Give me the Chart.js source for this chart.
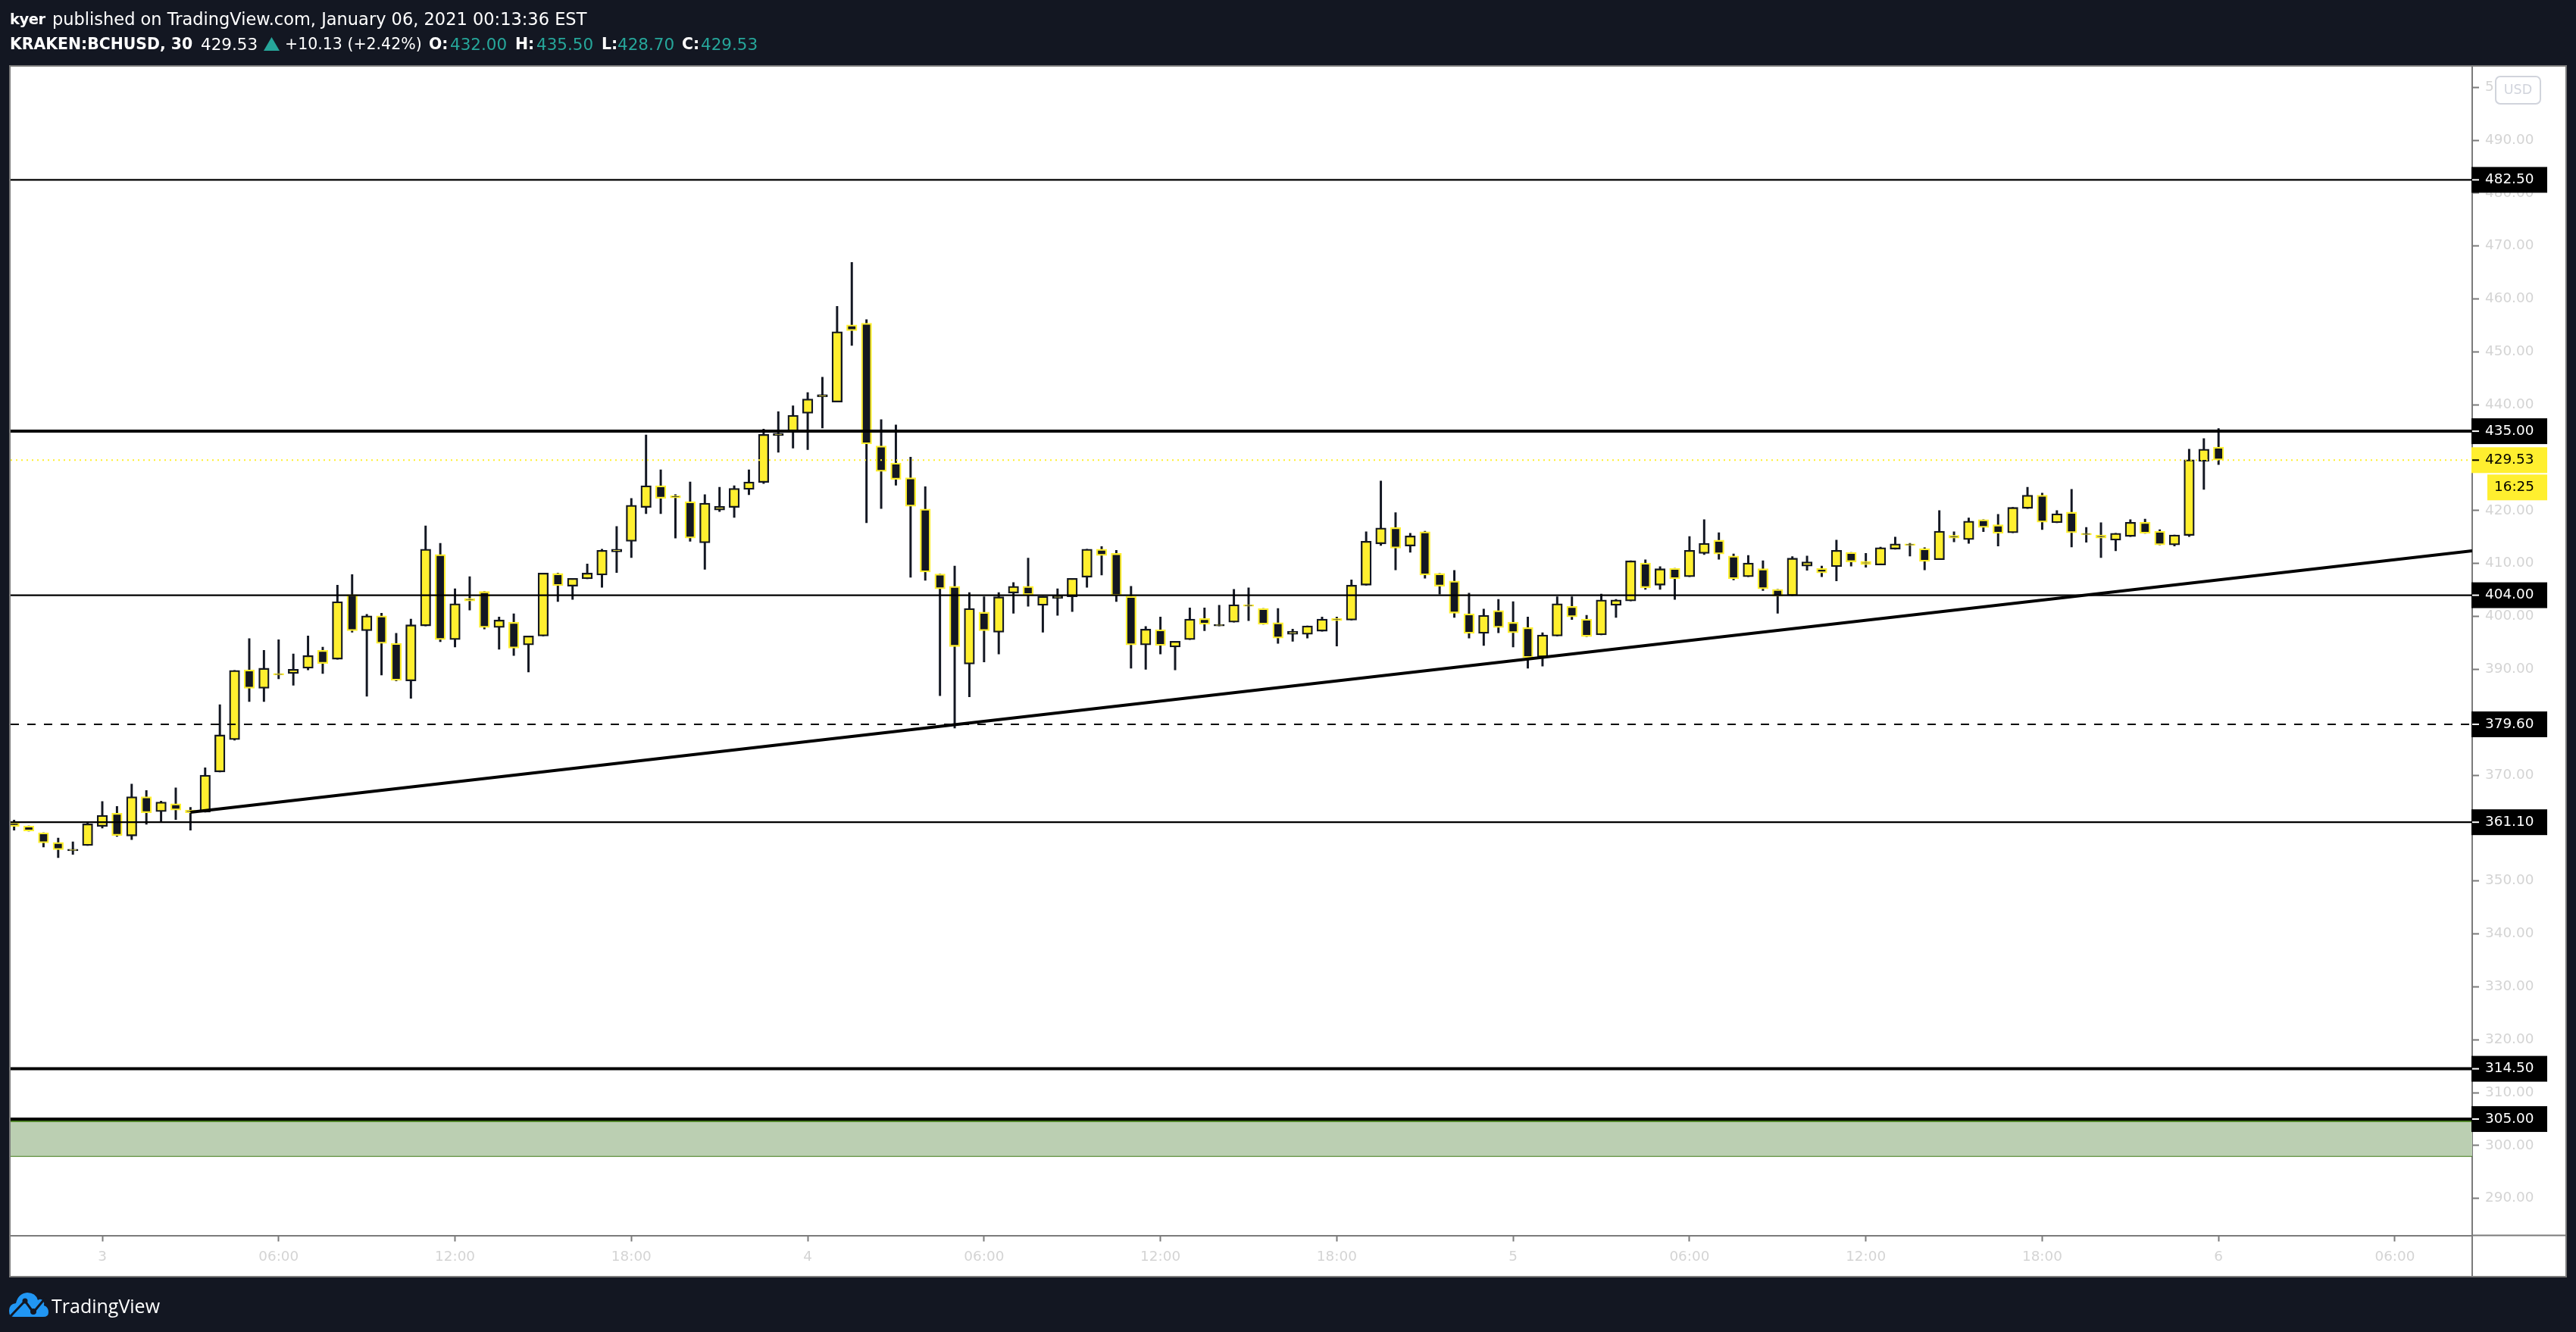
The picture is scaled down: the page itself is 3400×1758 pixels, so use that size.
<!DOCTYPE html>
<html>
<head>
<meta charset="utf-8">
<title>BCHUSD</title>
<script src="https://cdn.jsdelivr.net/npm/chart.js@4"></script>
<style>
html, body { margin: 0; padding: 0; width: 3400px; height: 1758px; overflow: hidden; background: #131722; }
canvas { position: absolute; left: 0; top: 0; }
.t { position: absolute; white-space: nowrap; font-family: "DejaVu Sans"; font-size: 21.5px; line-height: 25px; color: #ffffff; }
.b { font-weight: bold; font-size: 20.4px; }
.g { color: #26a69a; }
</style>
</head>
<body>
<canvas id="myChart" width="3400" height="1758"></canvas>

<div class="t b" style="left:13px;top:13px;font-size:19.5px;letter-spacing:-0.5px">kyer</div>
<div class="t" style="left:69px;top:13px;font-size:22.5px">published on TradingView.com, January 06, 2021 00:13:36 EST</div>
<div class="t b" style="left:13px;top:46px">KRAKEN:BCHUSD, 30</div>
<div class="t" style="left:265px;top:46px">429.53</div>
<svg style="position:absolute;left:348px;top:49px" width="21" height="18"><polygon points="10.5,0 21,18 0,18" fill="#26a69a"/></svg>
<div class="t" style="left:376px;top:46px;font-size:20.5px">+10.13 (+2.42%)</div>
<div class="t b" style="left:566px;top:46px">O:</div>
<div class="t g" style="left:594px;top:46px">432.00</div>
<div class="t b" style="left:680px;top:46px">H:</div>
<div class="t g" style="left:708px;top:46px">435.50</div>
<div class="t b" style="left:794px;top:46px">L:</div>
<div class="t g" style="left:815px;top:46px">428.70</div>
<div class="t b" style="left:900px;top:46px">C:</div>
<div class="t g" style="left:925px;top:46px">429.53</div>

<svg style="position:absolute;left:12px;top:1706px" width="54" height="32" viewBox="0 0 54 32">
  <path d="M6 32 Q0 32 0 24 Q0 15 9 14 Q12 1 24 0 Q35 0 38 10 Q42 7 45 11 Q47 14 46 17 Q52 19 52 26 Q52 32 45 32 Z" fill="#2196f3"/>
  <polyline points="2,31 21,11 32,26 48,7" fill="none" stroke="#131722" stroke-width="3"/>
  <circle cx="21" cy="11" r="3.5" fill="#131722"/><circle cx="32" cy="25" r="4" fill="#131722"/>
</svg>
<div class="t" style="left:68px;top:1709px;font-family:'Open Sans';font-size:25px;line-height:28px">TradingView</div>

<script>
const firstBar = -6;
const opens = [
  361.1,360.4,359.1,357.3,355.7,356.7,360.3,362.8,358.5,365.9,
  363.1,364.6,363.4,363.0,370.6,376.7,389.9,386.4,389.2,389.2,
  390.2,393.6,391.9,404.1,397.3,400.1,394.9,387.8,398.2,411.7,
  395.6,403.4,404.7,397.9,398.9,394.6,396.3,408.1,405.7,407.1,
  407.8,412.2,414.2,420.6,424.7,422.8,421.7,413.9,420.1,420.6,
  424.0,425.3,434.2,434.9,438.4,441.5,440.5,455.1,455.4,432.2,
  429.0,426.2,420.3,408.0,405.7,391.0,400.8,397.0,404.4,405.7,
  402.1,403.4,403.7,407.4,412.7,411.9,403.8,394.6,397.5,394.2,
  395.6,399.6,398.2,398.9,402.2,401.5,398.8,396.6,396.6,397.2,
  399.6,399.3,405.9,413.7,416.8,413.3,416.0,408.1,406.7,400.5,
  396.8,401.1,398.9,397.9,392.3,396.3,401.9,399.5,396.5,402.1,
  402.9,410.1,405.9,409.1,407.5,411.9,414.4,411.4,407.5,409.0,
  405.1,403.9,409.5,409.1,409.4,412.1,410.4,409.7,412.7,413.7,
  412.8,410.7,415.3,414.5,418.3,417.3,415.8,420.4,422.9,417.7,
  419.7,415.7,415.4,414.4,415.1,417.8,416.1,413.5,415.3,429.3,432.0
];
const closes = [
  360.3,359.4,357.2,355.9,356.0,360.8,362.4,358.6,365.9,362.9,
  364.9,363.4,362.9,370.0,377.6,389.8,386.4,390.2,388.9,390.0,
  392.6,391.1,402.8,397.3,400.1,394.9,387.9,398.4,412.7,395.6,
  402.4,402.9,397.9,399.3,394.0,396.3,408.2,405.8,407.2,408.2,
  412.5,412.7,421.0,424.7,422.3,422.4,414.8,421.4,420.8,424.2,
  425.4,434.4,434.6,438.0,441.1,441.9,453.8,454.0,432.6,427.4,
  425.9,420.8,408.4,405.2,394.3,401.5,397.3,403.7,405.7,404.1,
  403.8,403.9,407.2,412.7,411.5,403.9,394.6,397.6,394.5,395.3,
  399.5,398.5,398.5,402.2,401.9,398.5,395.9,397.2,398.2,399.5,
  399.2,405.9,414.2,416.7,412.9,415.2,407.8,405.7,400.6,396.8,
  400.2,397.9,396.9,392.2,396.5,402.4,399.9,396.2,403.1,403.1,
  410.5,405.4,409.0,407.1,412.5,413.8,411.8,407.1,410.1,405.2,
  403.8,411.0,410.3,408.2,412.5,410.3,409.8,413.0,413.7,413.4,
  410.4,416.1,414.8,418.0,416.8,415.7,420.6,422.9,417.8,419.4,
  415.8,415.4,414.8,415.7,417.8,415.7,413.5,415.4,429.6,431.6,429.53
];
const highs = [
  361.5,360.4,359.1,358.1,357.4,361.0,365.0,364.1,368.3,367.1,
  365.1,367.6,363.9,371.4,383.3,389.8,395.8,393.6,395.6,392.9,
  396.3,394.2,405.9,407.9,400.4,400.6,396.8,399.5,417.1,413.8,
  405.2,407.5,404.7,399.9,400.5,396.3,408.2,408.2,407.2,409.9,
  412.7,417.0,422.3,434.3,427.7,423.0,425.4,423.0,424.4,424.7,
  427.7,435.4,438.7,439.8,442.3,445.2,458.6,466.9,456.1,437.2,
  436.2,430.1,424.5,408.0,409.5,404.5,403.7,404.5,406.4,411.0,
  403.8,405.2,407.2,412.7,413.2,412.5,405.7,398.1,399.9,395.3,
  401.6,401.6,402.1,405.1,405.4,401.5,401.5,397.6,398.2,399.9,
  399.9,406.9,416.0,425.6,419.6,415.7,416.1,408.1,408.7,404.4,
  401.4,403.2,402.8,399.9,396.9,403.7,403.7,400.2,404.2,403.2,
  410.5,410.7,409.4,409.1,415.1,418.3,415.8,411.8,411.5,410.5,
  405.1,411.3,411.4,409.5,414.4,412.1,411.9,413.1,415.0,413.8,
  413.0,420.0,416.0,418.6,418.3,419.3,420.6,424.4,423.3,420.0,
  424.0,416.8,417.7,415.7,418.3,418.4,416.4,415.4,431.6,433.6,435.5
];
const lows = [
  359.6,359.4,356.4,354.4,355.0,356.7,360.0,358.4,357.8,360.7,
  361.3,361.6,359.6,363.0,370.6,376.6,383.9,383.9,388.2,387.0,
  389.9,389.2,391.9,397.0,384.9,388.9,387.8,384.5,398.2,395.2,
  394.2,401.2,397.6,393.8,392.6,389.5,396.3,402.8,403.2,407.1,
  405.5,408.3,411.1,419.4,419.4,414.8,414.2,408.9,419.8,418.7,
  423.0,425.1,431.0,431.8,431.5,435.6,440.5,451.2,417.7,420.4,
  424.8,407.4,406.8,385.0,378.9,384.8,391.4,392.9,400.6,401.9,
  397.0,400.2,400.9,405.5,407.8,402.8,390.2,390.0,392.9,389.9,
  395.6,397.3,398.2,398.9,399.2,398.5,394.9,395.3,395.9,397.2,
  394.4,399.3,405.9,413.4,408.8,412.1,407.2,404.2,399.8,395.9,
  394.5,396.9,394.2,390.2,390.6,396.3,399.4,396.2,396.5,399.8,
  402.9,405.1,405.1,403.2,407.5,411.7,410.8,406.9,407.5,404.9,
  400.6,403.9,408.7,407.5,406.7,409.5,409.3,409.7,412.7,411.4,
  408.8,410.7,414.1,413.8,416.0,413.3,415.8,420.4,416.4,417.7,
  413.1,414.0,411.1,412.4,415.1,415.7,413.5,413.3,415.1,424.0,428.7
];
const barIndex = opens.map((v, i) => firstBar + i);

const timeTicks = [0, 12, 24, 36, 48, 60, 72, 84, 96, 108, 120, 132, 144, 156];
const timeLabels = ["3", "06:00", "12:00", "18:00", "4", "06:00", "12:00", "18:00", "5", "06:00", "12:00", "18:00", "6", "06:00"];
const priceTicks = [290, 300, 310, 320, 330, 340, 350, 360, 370, 380, 390, 400, 410, 420, 430, 440, 450, 460, 470, 480, 490, 500];

const thinLevels = [482.5, 404, 361.1];
const thickLevels = [435, 314.5, 305];
const dashedLevels = [379.6];
const lastPrice = 429.53;
const countdown = "16:25";
const trendBars = [6, 161.26];
const trendPrices = [363.0, 412.4];
const zoneTop = 304.6;
const zoneBottom = 298.0;

const xMin = -6.238, xMax = 161.26;
const yMin = 283.012, yMax = 503.89;

const yellow = '#ffef2f';
const dark = '#131722';
const axisGrey = '#7b7b7b';
const tickText = '#d4d4d4';
const axisFont = { family: 'DejaVu Sans', size: 18.4 };

function hLine(price, width, color, order, dash) {
  return {
    type: 'line',
    data: [{ x: xMin, y: price }, { x: xMax, y: price }],
    borderColor: color,
    borderWidth: width,
    borderDash: dash || [],
    pointRadius: 0,
    order: order
  };
}

const isUp = opens.map((o, i) => closes[i] > o);

const datasets = [
  {
    type: 'bar',
    data: barIndex.map((x, i) => ({ x: x, y: [lows[i], highs[i]] })),
    backgroundColor: dark,
    barThickness: 2.3,
    grouped: false,
    order: 30
  },
  {
    type: 'bar',
    data: barIndex.map((x, i) => ({ x: x, y: [opens[i], closes[i]] })),
    backgroundColor: isUp.map(u => u ? yellow : dark),
    borderColor: isUp.map(u => u ? dark : yellow),
    borderWidth: 2.3,
    borderSkipped: false,
    barThickness: 13.6,
    grouped: false,
    order: 20
  },
  // green zone at the bottom
  Object.assign(hLine(zoneTop, 2, '#3f7a14', 12), { fill: { value: zoneBottom }, backgroundColor: '#bbcfb2' }),
  hLine(zoneBottom, 2, '#3f7a14', 12),
  hLine(lastPrice, 2, yellow, 15, [2, 5]),
  ...thinLevels.map(p => hLine(p, 2.4, '#000000', 10)),
  ...thickLevels.map(p => hLine(p, 4, '#000000', 10)),
  ...dashedLevels.map(p => hLine(p, 2, '#000000', 10, [11, 11])),
  {
    type: 'line',
    data: trendBars.map((x, i) => ({ x: x, y: trendPrices[i] })),
    borderColor: '#000000',
    borderWidth: 4,
    pointRadius: 0,
    order: 5
  }
];

function priceTag(ctx, scale, price, bg, fg) {
  const y = scale.getPixelForValue(price);
  ctx.fillStyle = bg;
  ctx.fillRect(3262, y - 17, 100, 34);
  ctx.fillStyle = fg;
  ctx.fillRect(3263, y - 1, 9, 2);
  ctx.font = '18.4px "DejaVu Sans"';
  ctx.textAlign = 'left';
  ctx.textBaseline = 'middle';
  ctx.fillText(price.toFixed(2), 3280, y);
}

const frame = {
  id: 'frame',
  beforeDraw(chart) {
    const ctx = chart.ctx;
    ctx.save();
    ctx.fillStyle = '#ffffff';
    ctx.fillRect(13, 87, 3374, 1598);
    ctx.strokeStyle = axisGrey;
    ctx.lineWidth = 2;
    ctx.strokeRect(13, 87, 3374, 1598);
    ctx.restore();
  },
  afterDraw(chart) {
    const ctx = chart.ctx;
    const area = chart.chartArea;
    const y = chart.scales.y;
    ctx.save();
    ctx.strokeStyle = axisGrey;
    ctx.lineWidth = 2;
    ctx.beginPath();
    ctx.moveTo(area.right, area.bottom);
    ctx.lineTo(area.right, 1685);
    ctx.moveTo(area.right, area.bottom);
    ctx.lineTo(3387, area.bottom);
    ctx.stroke();

    // currency button
    ctx.fillStyle = '#ffffff';
    ctx.strokeStyle = '#d1d4dc';
    ctx.lineWidth = 2;
    ctx.beginPath();
    ctx.roundRect(3294, 101, 59, 36, 6);
    ctx.fill();
    ctx.stroke();
    ctx.fillStyle = '#d1d4dc';
    ctx.font = '17.5px "DejaVu Sans"';
    ctx.textAlign = 'center';
    ctx.textBaseline = 'middle';
    ctx.fillText('USD', 3323.5, 119);

    [...thinLevels, ...thickLevels, ...dashedLevels].forEach(p => priceTag(ctx, y, p, '#000000', '#ffffff'));
    priceTag(ctx, y, lastPrice, yellow, '#000000');

    const ly = y.getPixelForValue(lastPrice);
    ctx.fillStyle = yellow;
    ctx.fillRect(3283, ly + 19, 79, 34);
    ctx.fillStyle = '#000000';
    ctx.textAlign = 'left';
    ctx.font = '18.4px "DejaVu Sans"';
    ctx.fillText(countdown, 3292, ly + 36);
    ctx.restore();
  }
};

new Chart(document.getElementById('myChart').getContext('2d'), {
  data: { datasets: datasets },
  plugins: [frame],
  options: {
    responsive: false,
    devicePixelRatio: 1,
    animation: false,
    layout: { padding: { left: 14, top: 88, right: 13, bottom: 73 } },
    plugins: { legend: { display: false }, tooltip: { enabled: false } },
    scales: {
      x: {
        type: 'linear',
        offset: false,
        min: xMin,
        max: xMax,
        afterBuildTicks(scale) { scale.ticks = timeTicks.map(v => ({ value: v })); },
        afterFit(scale) { scale.height = 54.5; },
        grid: { offset: false, drawOnChartArea: false, tickLength: 8, tickColor: axisGrey, tickWidth: 2 },
        border: { color: axisGrey, width: 2 },
        ticks: {
          autoSkip: false,
          maxRotation: 0,
          padding: 10,
          color: tickText,
          font: axisFont,
          callback: (v, i) => timeLabels[i]
        }
      },
      y: {
        type: 'linear',
        position: 'right',
        min: yMin,
        max: yMax,
        afterBuildTicks(scale) { scale.ticks = priceTicks.map(v => ({ value: v })); },
        afterFit(scale) { scale.width = 124; },
        grid: { drawOnChartArea: false, tickLength: 9, tickColor: axisGrey, tickWidth: 2 },
        border: { color: axisGrey, width: 2 },
        ticks: {
          autoSkip: false,
          padding: 8,
          color: tickText,
          font: axisFont,
          callback: v => v.toFixed(2)
        }
      }
    }
  }
});
</script>
</body>
</html>
